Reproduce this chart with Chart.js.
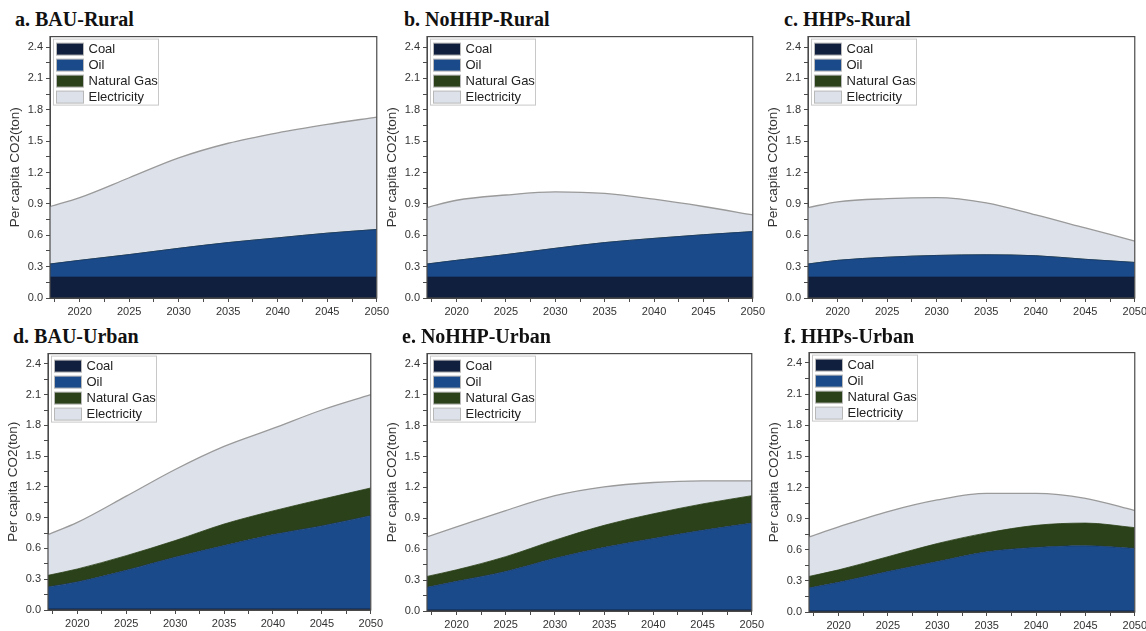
<!DOCTYPE html>
<html>
<head>
<meta charset="utf-8">
<script src="https://cdn.jsdelivr.net/npm/chart.js@4.4.1/dist/chart.umd.min.js"></script>
<style>
  body { margin: 0; background: #fff; width: 1146px; height: 631px; position: relative; overflow: hidden; }
  .ttl { position: absolute; font: bold 20px "Liberation Serif", "Times New Roman", serif; color: #111; white-space: nowrap; }
  .box { position: absolute; }
</style>
</head>
<body>
<script>
// years
var years = [2017, 2020, 2025, 2030, 2035, 2040, 2045, 2050];
var fuels = ["Coal", "Oil", "Natural Gas", "Electricity"];
var fuelColors = ["#0f1f3d", "#1a4a8a", "#2b4119", "#dde1ea"];

// per capita CO2 (ton), each layer's own share (stacked in the chart)
var bauRuralCoal = [0.2, 0.2, 0.2, 0.2, 0.2, 0.2, 0.2, 0.2];
var bauRuralOil  = [0.125, 0.16, 0.215, 0.275, 0.33, 0.375, 0.42, 0.455];
var bauRuralGas  = [0, 0, 0, 0, 0, 0, 0, 0];
var bauRuralElec = [0.549, 0.60, 0.735, 0.865, 0.95, 1.005, 1.04, 1.075];

var noRuralCoal = [0.2, 0.2, 0.2, 0.2, 0.2, 0.2, 0.2, 0.2];
var noRuralOil  = [0.125, 0.16, 0.215, 0.275, 0.33, 0.37, 0.405, 0.435];
var noRuralGas  = [0, 0, 0, 0, 0, 0, 0, 0];
var noRuralElec = [0.54, 0.575, 0.57, 0.54, 0.47, 0.375, 0.27, 0.16];

var hhpRuralCoal = [0.2, 0.2, 0.2, 0.2, 0.2, 0.2, 0.2, 0.2];
var hhpRuralOil  = [0.125, 0.16, 0.19, 0.207, 0.213, 0.204, 0.17, 0.14];
var hhpRuralGas  = [0, 0, 0, 0, 0, 0, 0, 0];
var hhpRuralElec = [0.54, 0.56, 0.56, 0.553, 0.497, 0.391, 0.30, 0.205];

var bauUrbanCoal = [0.01, 0.01, 0.01, 0.01, 0.01, 0.01, 0.01, 0.01];
var bauUrbanOil  = [0.215, 0.264, 0.377, 0.505, 0.618, 0.725, 0.81, 0.91];
var bauUrbanGas  = [0.113, 0.126, 0.143, 0.162, 0.21, 0.231, 0.26, 0.27];
var bauUrbanElec = [0.397, 0.454, 0.58, 0.693, 0.757, 0.804, 0.87, 0.91];

var noUrbanCoal = [0.01, 0.01, 0.01, 0.01, 0.01, 0.01, 0.01, 0.01];
var noUrbanOil  = [0.22, 0.278, 0.374, 0.502, 0.608, 0.694, 0.774, 0.844];
var noUrbanGas  = [0.106, 0.112, 0.144, 0.176, 0.214, 0.24, 0.256, 0.266];
var noUrbanElec = [0.384, 0.416, 0.448, 0.432, 0.374, 0.304, 0.224, 0.144];

var hhpUrbanCoal = [0.01, 0.01, 0.01, 0.01, 0.01, 0.01, 0.01, 0.01];
var hhpUrbanOil  = [0.222, 0.276, 0.38, 0.476, 0.57, 0.612, 0.628, 0.603];
var hhpUrbanGas  = [0.111, 0.12, 0.143, 0.174, 0.182, 0.213, 0.219, 0.2];
var hhpUrbanElec = [0.381, 0.414, 0.435, 0.42, 0.381, 0.308, 0.238, 0.165];

var yTicks = [0.0, 0.3, 0.6, 0.9, 1.2, 1.5, 1.8, 2.1, 2.4];
var xTicks = [2020, 2025, 2030, 2035, 2040, 2045, 2050];

// panel placement: chart area left, right, top, bottom
var panels = [
  { title: "a. BAU-Rural",   area: [50, 377, 35, 298],  tx: 15,  ty: 8,   data: [bauRuralCoal, bauRuralOil, bauRuralGas, bauRuralElec] },
  { title: "b. NoHHP-Rural", area: [427, 753, 35, 298], tx: 404, ty: 8,   data: [noRuralCoal, noRuralOil, noRuralGas, noRuralElec] },
  { title: "c. HHPs-Rural",  area: [808, 1135, 35, 298], tx: 784, ty: 8,  data: [hhpRuralCoal, hhpRuralOil, hhpRuralGas, hhpRuralElec] },
  { title: "d. BAU-Urban",   area: [48, 371, 352, 610], tx: 13,  ty: 325, data: [bauUrbanCoal, bauUrbanOil, bauUrbanGas, bauUrbanElec] },
  { title: "e. NoHHP-Urban", area: [427, 752, 352, 611], tx: 402, ty: 325, data: [noUrbanCoal, noUrbanOil, noUrbanGas, noUrbanElec] },
  { title: "f. HHPs-Urban",  area: [809, 1135, 351, 612], tx: 784, ty: 325, data: [hhpUrbanCoal, hhpUrbanOil, hhpUrbanGas, hhpUrbanElec] }
];

var axisFont = { family: "'Liberation Sans', Arial, sans-serif", size: 11 };

// frame around the plot plus the boxed legend in the top left corner
var framePlugin = {
  id: 'frame',
  afterDraw(chart) {
    var ctx = chart.ctx, a = chart.chartArea;
    ctx.save();
    ctx.strokeStyle = '#4a4a4a';
    ctx.lineWidth = 1.2;
    ctx.strokeRect(a.left, a.top, a.right - a.left, a.bottom - a.top);

    var lx = a.left + 3.5, ly = a.top + 2.5;
    ctx.fillStyle = '#fff';
    ctx.fillRect(lx, ly, 105, 66);
    ctx.strokeStyle = '#c8c8c8';
    ctx.lineWidth = 1;
    ctx.strokeRect(lx, ly, 105, 66);
    ctx.font = "13px 'Liberation Sans', Arial, sans-serif";
    ctx.textBaseline = 'middle';
    chart.data.datasets.forEach(function (ds, k) {
      var cy = ly + 10 + k * 16;
      ctx.fillStyle = ds.backgroundColor;
      ctx.fillRect(lx + 3, cy - 6, 27, 12);
      ctx.strokeStyle = '#b8b8b8';
      ctx.strokeRect(lx + 3, cy - 6, 27, 12);
      ctx.fillStyle = '#222';
      ctx.fillText(ds.label, lx + 35, cy + 0.5);
    });
    ctx.restore();
  }
};

panels.forEach(function (p, i) {
  var a = p.area;
  var left = a[0] - 50, top = a[2] - 8;
  var w = a[1] - a[0] + 50 + 15, h = a[3] - a[2] + 8 + 20;

  var t = document.createElement('div');
  t.className = 'ttl';
  t.style.left = p.tx + 'px';
  t.style.top = p.ty + 'px';
  t.textContent = p.title;
  document.body.appendChild(t);

  var d = document.createElement('div');
  d.className = 'box';
  d.style.left = left + 'px';
  d.style.top = top + 'px';
  d.style.width = w + 'px';
  d.style.height = h + 'px';
  var c = document.createElement('canvas');
  c.id = 'chart' + i;
  d.appendChild(c);
  document.body.appendChild(d);

  var datasets = fuels.map(function (name, k) {
    return {
      label: name,
      data: years.map(function (yr, j) { return { x: yr, y: p.data[k][j] }; }),
      backgroundColor: fuelColors[k],
      borderColor: k === 3 ? '#9a9a9a' : (k === 1 ? '#16386a' : fuelColors[k]),
      borderWidth: k === 3 ? 1.3 : 0.8,
      fill: k === 0 ? 'origin' : '-1',
      pointRadius: 0,
      cubicInterpolationMode: 'monotone'
    };
  });

  new Chart(c, {
    type: 'line',
    data: { datasets: datasets },
    plugins: [framePlugin],
    options: {
      responsive: true,
      maintainAspectRatio: false,
      animation: false,
      layout: { padding: { left: 0, right: 15, top: 8, bottom: 0 } },
      plugins: {
        tooltip: { enabled: false },
        legend: { display: false }
      },
      scales: {
        x: {
          type: 'linear',
          min: 2017,
          max: 2050,
          afterFit: function (s) { s.height = 20; },
          grid: { drawOnChartArea: false, drawTicks: true, tickLength: 4, color: '#4a4a4a' },
          border: { display: true, color: '#4a4a4a' },
          ticks: {
            stepSize: 2.5,
            includeBounds: false,
            autoSkip: false,
            maxRotation: 0,
            padding: 3,
            color: '#333',
            font: axisFont,
            callback: function (v) { return xTicks.indexOf(v) >= 0 ? String(v) : ''; }
          }
        },
        y: {
          stacked: true,
          min: 0,
          max: 2.5,
          afterFit: function (s) { s.width = 50; },
          grid: { drawOnChartArea: false, drawTicks: true, tickLength: 4, color: '#4a4a4a' },
          border: { display: true, color: '#4a4a4a' },
          title: {
            display: true,
            text: 'Per capita CO2(ton)',
            color: '#333',
            font: { family: "'Liberation Sans', Arial, sans-serif", size: 13.5 },
            padding: { top: 7, bottom: 0 }
          },
          ticks: {
            stepSize: 0.15,
            includeBounds: false,
            autoSkip: false,
            padding: 3,
            color: '#333',
            font: axisFont,
            callback: function (v) {
              var hit = yTicks.some(function (y) { return Math.abs(y - v) < 1e-6; });
              return hit ? v.toFixed(1) : '';
            }
          }
        }
      }
    }
  });
});
</script>
</body>
</html>
